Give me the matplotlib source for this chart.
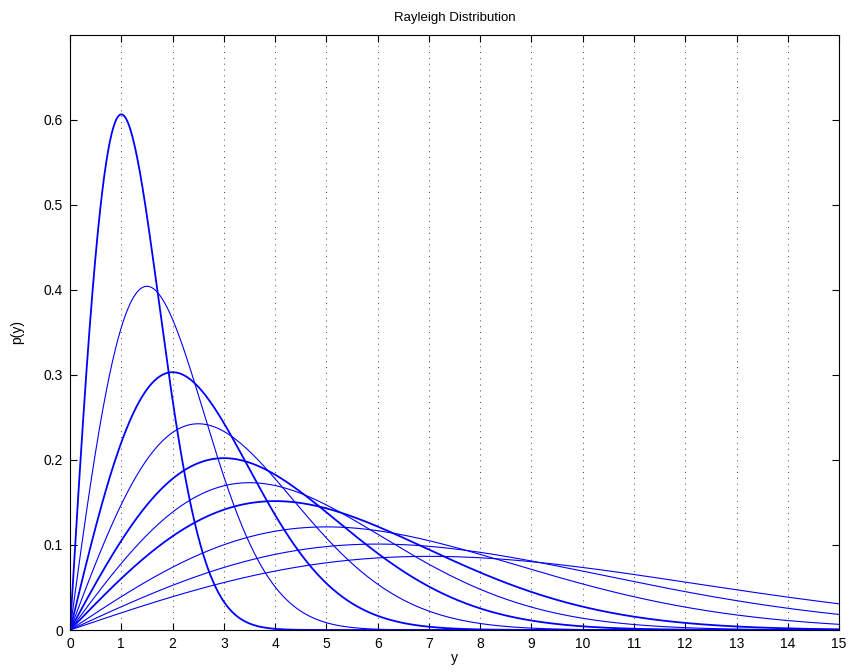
import numpy as np
import matplotlib
matplotlib.use('Agg')
import matplotlib.pyplot as plt

plt.rcParams['font.family'] = ['Liberation Sans', 'DejaVu Sans']

# scale parameters of the Rayleigh curves (peak at y = sigma)
sigmas = [1, 1.5, 2, 2.5, 3, 3.5, 4, 5, 6, 7]
thick = [1, 2, 3, 4]

y = np.linspace(0, 15, 1500)

fig = plt.figure(figsize=(8.5, 6.72), dpi=100)
ax = fig.add_axes([0.0824, 0.0625, 0.9047, 0.8855])

for s in sigmas:
    p = y / s**2 * np.exp(-y**2 / (2 * s**2))
    lw = 1.3 if s in thick else 0.8
    ax.plot(y, p, color='#0000ff', lw=lw)

ax.set_xlim(0, 15)
ax.set_ylim(0, 0.7)
ax.set_xticks(range(0, 16))
ax.set_yticks([0, 0.1, 0.2, 0.3, 0.4, 0.5, 0.6])
ax.set_yticklabels(['0', '0.1', '0.2', '0.3', '0.4', '0.5', '0.6'])
ax.xaxis.grid(True, linestyle=(0, (1, 5)), color='#444444', lw=0.7)
ax.tick_params(direction='in', top=True, right=True, labelsize=10, length=5, pad=5)
for sp in ax.spines.values():
    sp.set_linewidth(0.8)

ax.set_title('Rayleigh Distribution', fontsize=9.5, pad=10)
ax.set_xlabel('y', fontsize=10, labelpad=0)
ax.set_ylabel('p(y)', fontsize=10, labelpad=14)

fig.savefig('out.png', dpi=100)
